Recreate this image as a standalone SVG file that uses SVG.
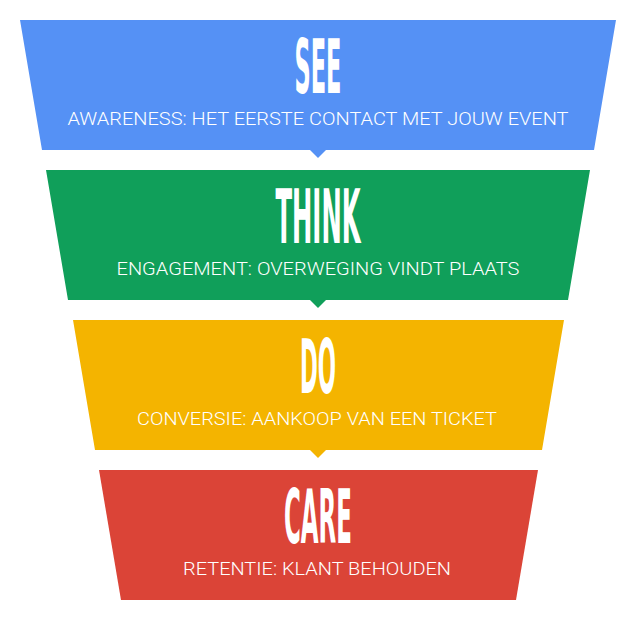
<svg xmlns="http://www.w3.org/2000/svg" width="636" height="617" viewBox="0 0 636 617">
<style>
.t{font-family:"DejaVu Sans Condensed","DejaVu Sans",sans-serif;font-weight:bold;font-size:74px;fill:#fff;text-anchor:middle}
.s{font-family:Roboto,"Liberation Sans",sans-serif;font-weight:300;font-size:19px;fill:#fff;text-anchor:middle}
</style>
<rect width="636" height="617" fill="#fff"/>
<g id="see">
<polygon points="20,20 616,20 594,150 326,150 318,158 310,150 42,150" fill="#5591F5"/>
<text class="t" x="318" y="93" textLength="47" lengthAdjust="spacingAndGlyphs">SEE</text>
<text class="s" x="318" y="125" textLength="501" lengthAdjust="spacingAndGlyphs">AWARENESS: HET EERSTE CONTACT MET JOUW EVENT</text>
</g>
<g id="think">
<polygon points="46,170 590,170 568,300 326,300 318,308 310,300 68,300" fill="#109F5A"/>
<text class="t" x="318" y="243" textLength="85" lengthAdjust="spacingAndGlyphs">THINK</text>
<text class="s" x="318" y="275" textLength="403" lengthAdjust="spacingAndGlyphs">ENGAGEMENT: OVERWEGING VINDT PLAATS</text>
</g>
<g id="do">
<polygon points="73,320 564,320 542,450 326,450 318,458 310,450 95,450" fill="#F4B400"/>
<text class="t" x="318" y="393" textLength="36" lengthAdjust="spacingAndGlyphs">DO</text>
<text class="s" x="317" y="425" textLength="360" lengthAdjust="spacingAndGlyphs">CONVERSIE: AANKOOP VAN EEN TICKET</text>
</g>
<g id="care">
<polygon points="99,470 538,470 516,600 121,600" fill="#DB4437"/>
<text class="t" x="318" y="543" textLength="68" lengthAdjust="spacingAndGlyphs">CARE</text>
<text class="s" x="317" y="575" textLength="268" lengthAdjust="spacingAndGlyphs">RETENTIE: KLANT BEHOUDEN</text>
</g>
<g id="connectors"></g>
</svg>
